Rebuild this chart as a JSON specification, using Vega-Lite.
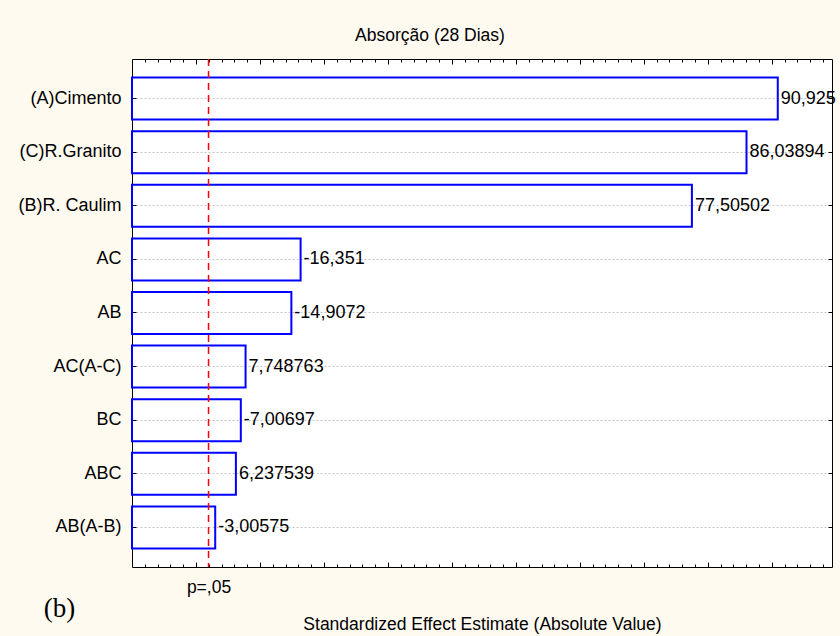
{
  "$schema": "https://vega.github.io/schema/vega-lite/v6.json",
  "autosize": {"type": "none"},
  "padding": {"left": 132, "top": 59, "right": 8, "bottom": 69},
  "width": 700,
  "height": 508,
  "background": "#fefaf0",
  "title": {
    "text": "Absorção (28 Dias)",
    "anchor": "middle",
    "frame": "group",
    "dx": -52,
    "offset": 14,
    "font": "Liberation Sans",
    "fontSize": 17.5,
    "fontWeight": "normal",
    "color": "#000"
  },
  "data": {
    "values": [
      {"term": "(A)Cimento", "value": 90.925, "label": "90,925"},
      {"term": "(C)R.Granito", "value": 86.03894, "label": "86,03894"},
      {"term": "(B)R. Caulim", "value": 77.50502, "label": "77,50502"},
      {"term": "AC", "value": 16.351, "label": "-16,351"},
      {"term": "AB", "value": 14.9072, "label": "-14,9072"},
      {"term": "AC(A-C)", "value": 7.748763, "label": "7,748763"},
      {"term": "BC", "value": 7.00697, "label": "-7,00697"},
      {"term": "ABC", "value": 6.237539, "label": "6,237539"},
      {"term": "AB(A-B)", "value": 3.00575, "label": "-3,00575"}
    ]
  },
  "resolve": {"axis": {"x": "independent", "y": "independent"}},
  "layer": [
    {
      "mark": {"type": "bar", "filled": false, "color": "#0000ff", "strokeWidth": 2},
      "encoding": {
        "y": {
          "field": "term",
          "type": "nominal",
          "sort": null,
          "scale": {"paddingInner": 0.216, "paddingOuter": 0.347},
          "axis": {
            "orient": "left",
            "title": "(b)",
            "titleAngle": 0,
            "titleX": -73,
            "titleY": 549,
            "titleAlign": "center",
            "titleBaseline": "middle",
            "titleFont": "Liberation Serif",
            "titleFontSize": 27,
            "titleFontWeight": "normal",
            "titleColor": "#000",
            "labelFont": "Liberation Sans",
            "labelFontSize": 18,
            "labelColor": "#000",
            "labelPadding": 15,
            "ticks": true,
            "tickSize": -4,
            "tickColor": "#000",
            "domain": false,
            "grid": true,
            "gridColor": "#c4c4c4",
            "gridDash": [2, 2],
            "gridWidth": 1
          }
        },
        "x": {
          "field": "value",
          "type": "quantitative",
          "scale": {"domain": [-10, 99.4], "zero": false, "nice": false},
          "axis": {
            "orient": "bottom",
            "grid": false,
            "title": "Standardized Effect Estimate (Absolute Value)",
            "titleFont": "Liberation Sans",
            "titleFontSize": 17.5,
            "titleFontWeight": "normal",
            "titleColor": "#000",
            "titlePadding": 20,
            "values": [-8, -6, -4, -2, 0, 1.96, 2, 4, 6, 8, 10, 12, 14, 16, 18, 20, 22, 24, 26, 28, 30, 32, 34, 36, 38, 40, 42, 44, 46, 48, 50, 52, 54, 56, 58, 60, 62, 64, 66, 68, 70, 72, 74, 76, 78, 80, 82, 84, 86, 88, 90, 92, 94, 96, 98],
            "labelExpr": "datum.value === 1.96 ? 'p=,05' : ''",
            "labelFont": "Liberation Sans",
            "labelFontSize": 17.5,
            "labelColor": "#000",
            "labelPadding": 14,
            "labelFlush": false,
            "labelOverlap": false,
            "domain": false,
            "tickColor": "#000",
            "tickSize": {"condition": {"test": "datum.value % 10 === 0", "value": -5}, "value": -3},
            "tickOpacity": {"condition": {"test": "datum.value === 1.96", "value": 0}, "value": 1}
          }
        },
        "x2": {"datum": -10}
      }
    },
    {
      "mark": {"type": "text", "align": "left", "baseline": "middle", "dx": 3, "font": "Liberation Sans", "fontSize": 18, "color": "#000"},
      "encoding": {
        "y": {
          "field": "term",
          "type": "nominal",
          "sort": null,
          "axis": {
            "orient": "right",
            "title": null,
            "labels": false,
            "domain": false,
            "grid": false,
            "tickColor": "#000",
            "tickSize": -4
          }
        },
        "x": {
          "field": "value",
          "type": "quantitative",
          "axis": {
            "orient": "top",
            "title": null,
            "labels": false,
            "domain": false,
            "grid": false,
            "values": [-8, -6, -4, -2, 0, 2, 4, 6, 8, 10, 12, 14, 16, 18, 20, 22, 24, 26, 28, 30, 32, 34, 36, 38, 40, 42, 44, 46, 48, 50, 52, 54, 56, 58, 60, 62, 64, 66, 68, 70, 72, 74, 76, 78, 80, 82, 84, 86, 88, 90, 92, 94, 96, 98],
            "tickColor": "#000",
            "tickSize": {"condition": {"test": "datum.value % 10 === 0", "value": -5}, "value": -3}
          }
        },
        "text": {"field": "label"}
      }
    },
    {
      "data": {"values": [{"critical": 1.96}]},
      "mark": {"type": "rule", "color": "#ff0000", "strokeWidth": 1.5, "strokeDash": [7, 5]},
      "encoding": {
        "x": {"field": "critical", "type": "quantitative", "axis": null}
      }
    }
  ],
  "config": {
    "view": {"stroke": "#000", "strokeWidth": 1, "fill": "#ffffff"}
  }
}
